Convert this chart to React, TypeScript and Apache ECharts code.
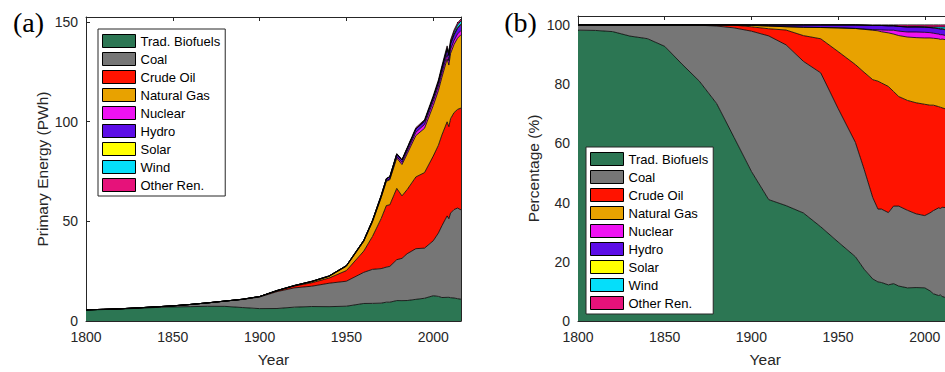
import React, { useEffect, useRef } from 'react';
import * as echarts from 'echarts';

const years = [1800, 1810, 1820, 1830, 1840, 1850, 1860, 1870, 1880, 1890, 1900, 1910, 1920, 1930, 1940, 1950, 1960, 1965, 1970, 1973, 1975, 1979, 1982, 1985, 1990, 1995, 2000, 2003, 2005, 2008, 2009, 2010, 2012, 2014, 2016];

// Primary energy by source, PWh
const tradBiofuels = [5.50, 5.74, 6.01, 6.35, 6.77, 7.05, 7.20, 7.37, 7.34, 6.76, 6.21, 6.27, 6.94, 7.26, 7.19, 7.42, 8.79, 8.84, 8.95, 9.44, 9.43, 10.25, 10.21, 10.27, 10.86, 11.41, 12.66, 12.34, 11.78, 11.87, 11.88, 11.70, 11.53, 11.21, 10.91];
const coal = [0.10, 0.11, 0.14, 0.25, 0.33, 0.55, 1.10, 1.72, 2.62, 4.03, 5.82, 8.46, 9.67, 10.19, 11.75, 12.54, 15.63, 17.07, 17.33, 17.59, 17.98, 20.50, 21.22, 23.49, 25.41, 25.15, 27.57, 31.82, 35.97, 40.85, 39.42, 42.44, 44.38, 45.45, 44.84];
const crudeOil = [0, 0, 0, 0, 0, 0, 0, 0.01, 0.04, 0.10, 0.18, 0.37, 0.89, 1.73, 2.60, 5.34, 10.65, 16.51, 25.07, 30.89, 30.89, 35.78, 31.35, 32.19, 35.99, 37.88, 42.49, 44.04, 45.57, 47.20, 46.17, 47.38, 48.62, 49.48, 51.06];
const naturalGas = [0, 0, 0, 0, 0, 0, 0, 0, 0, 0.01, 0.06, 0.14, 0.20, 0.56, 0.86, 2.22, 4.94, 7.32, 10.52, 12.16, 12.54, 15.20, 15.71, 17.92, 20.76, 22.22, 25.31, 27.47, 28.93, 31.60, 30.92, 32.71, 34.16, 35.73, 36.81];
const nuclear = [0, 0, 0, 0, 0, 0, 0, 0, 0, 0, 0, 0, 0, 0, 0, 0, 0, 0.05, 0.13, 0.29, 0.44, 0.76, 1.05, 1.31, 1.65, 1.92, 2.15, 2.18, 2.18, 2.21, 2.16, 2.12, 2.04, 2.09, 2.12];
const hydro = [0, 0, 0, 0, 0, 0, 0, 0, 0, 0, 0.02, 0.06, 0.11, 0.16, 0.20, 0.28, 0.49, 0.66, 0.88, 1.00, 1.09, 1.26, 1.22, 1.39, 1.65, 1.72, 1.92, 2.06, 2.30, 2.48, 2.57, 2.68, 2.77, 2.84, 2.88];
const solar = [0, 0, 0, 0, 0, 0, 0, 0, 0, 0, 0, 0, 0, 0, 0, 0, 0, 0, 0, 0, 0, 0, 0, 0, 0, 0, 0.01, 0.01, 0.03, 0.14, 0.14, 0.14, 0.29, 0.30, 0.45];
const wind = [0, 0, 0, 0, 0, 0, 0, 0, 0, 0, 0, 0, 0, 0, 0, 0, 0, 0, 0, 0, 0, 0, 0, 0, 0.05, 0.10, 0.23, 0.24, 0.38, 0.69, 0.81, 0.85, 1.17, 1.35, 1.52];
const otherRen = [0, 0, 0, 0, 0, 0, 0, 0, 0, 0, 0, 0, 0, 0, 0, 0, 0, 0.05, 0.13, 0.14, 0.15, 0.25, 0.24, 0.44, 0.63, 0.61, 0.68, 0.85, 0.90, 0.97, 0.95, 0.99, 1.02, 1.05, 0.91];

const names = ['Trad. Biofuels', 'Coal', 'Crude Oil', 'Natural Gas', 'Nuclear', 'Hydro', 'Solar', 'Wind', 'Other Ren.'];
const sources = [tradBiofuels, coal, crudeOil, naturalGas, nuclear, hydro, solar, wind, otherRen];
const colors = ['#2C7653', '#767676', '#FF1300', '#E8A200', '#EE12F2', '#5C0DE6', '#FFFF00', '#05DEFA', '#E6127A'];

const AX = '#262626';
const FONT = '"Liberation Sans", Arial, Helvetica, sans-serif';

function xPair(gridIndex: number) {
  const base = {
    type: 'value', gridIndex, min: 1800, max: 2016, interval: 50,
    splitLine: { show: false },
    axisLine: { show: true, onZero: false, lineStyle: { color: AX, width: 1 } },
    axisTick: { show: true, inside: true, length: 4, lineStyle: { color: AX, width: 1 } },
  };
  return [
    {
      ...base, position: 'bottom',
      axisLabel: { color: AX, fontSize: 14, fontFamily: FONT, margin: 9, formatter: (v: number) => (v % 50 === 0 ? String(v) : '') },
      name: 'Year', nameLocation: 'middle', nameGap: 30,
      nameTextStyle: { color: AX, fontSize: 15.5, fontFamily: FONT },
    },
    { ...base, position: 'top', axisLabel: { show: false } },
  ];
}

function yPair(gridIndex: number, max: number, interval: number, name: string, gap: number) {
  const base = {
    type: 'value', gridIndex, min: 0, max, interval,
    splitLine: { show: false },
    axisLine: { show: true, onZero: false, lineStyle: { color: AX, width: 1 } },
    axisTick: { show: true, inside: true, length: 4, lineStyle: { color: AX, width: 1 } },
  };
  return [
    {
      ...base, position: 'left',
      axisLabel: { color: AX, fontSize: 14, fontFamily: FONT, margin: 8, formatter: (v: number) => (v % interval === 0 ? String(v) : '') },
      name, nameLocation: 'middle', nameGap: gap,
      nameTextStyle: { color: AX, fontSize: 15.5, fontFamily: FONT },
    },
    { ...base, position: 'right', axisLabel: { show: false } },
  ];
}

function legendAt(left: number, top: number) {
  return {
    data: names, orient: 'vertical', left, top,
    itemWidth: 33, itemHeight: 13, itemGap: 4, icon: 'rect',
    padding: [5, 5, 4, 4], backgroundColor: '#fff', borderColor: AX, borderWidth: 1, borderRadius: 0,
    itemStyle: { borderColor: '#000', borderWidth: 1 },
    textStyle: { fontSize: 13, color: '#000', fontFamily: FONT },
    selectedMode: false, z: 10,
  };
}

function makeSeries(stack: string, axisIdx: number, valuesOf: (k: number, i: number) => number) {
  return sources.map((_, k) => ({
    name: names[k], type: 'line', stack, xAxisIndex: axisIdx, yAxisIndex: axisIdx,
    // [value, year] so that the stacked dimension is the value, not the year
    data: years.map((y, i) => [valuesOf(k, i), y]),
    encode: { x: 1, y: 0 },
    showSymbol: false, symbol: 'none', smooth: false,
    color: colors[k],
    itemStyle: { color: colors[k] },
    lineStyle: { color: '#000', width: 0.8 },
    areaStyle: { color: colors[k], opacity: 1 },
    emphasis: { disabled: true },
  }));
}

export default function App() {
  const ref = useRef<HTMLDivElement>(null);
  useEffect(() => {
    if (!ref.current) return;
    const chart = echarts.init(ref.current, undefined, { renderer: 'svg' });
    const totals = years.map((_, i) => sources.reduce((s, arr) => s + arr[i], 0));

    const seriesA = makeSeries('a', 0, (k, i) => sources[k][i]);
    const seriesB = makeSeries('b', 2, (k, i) => (sources[k][i] / totals[i]) * 100);

    chart.setOption({
      animation: false,
      textStyle: { fontFamily: FONT },
      grid: [
        { left: 86, top: 17, width: 375, height: 306 },
        { left: 578, top: 16, width: 374.5, height: 307 },
      ],
      xAxis: [...xPair(0), ...xPair(1)],
      yAxis: [...yPair(0, 152.5, 50, 'Primary Energy (PWh)', 35), ...yPair(1, 103, 20, 'Percentage (%)', 37)],
      legend: [legendAt(98, 29), legendAt(586, 147)],
      graphic: [
        { type: 'text', x: 28.5, y: 22.5, style: { text: '(a)', font: '28px "Liberation Serif", "DejaVu Serif", serif', fill: '#000', align: 'center', verticalAlign: 'middle' } },
        { type: 'text', x: 520.5, y: 22.5, style: { text: '(b)', font: '28px "Liberation Serif", "DejaVu Serif", serif', fill: '#000', align: 'center', verticalAlign: 'middle' } },
      ],
      series: [...seriesA, ...seriesB],
    });
    return () => chart.dispose();
  }, []);
  return (
    <div style={{ position: 'absolute', left: 0, top: 0, width: 945, height: 372, overflow: 'hidden', background: '#fff' }}>
      <div ref={ref} style={{ position: 'absolute', left: 0, top: 0, width: 970, height: 372 }} />
    </div>
  );
}
